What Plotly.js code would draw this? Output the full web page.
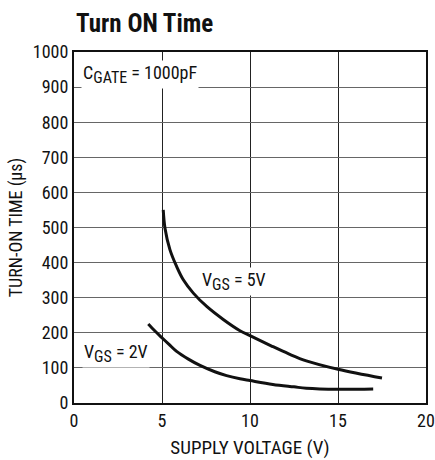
<!DOCTYPE html>
<html><head><meta charset="utf-8">
<script src="https://cdn.plot.ly/plotly-3.0.1.min.js"></script>
<style>body{margin:0;background:#fff}#c{width:435px;height:460px}</style>
</head><body><div id="c"></div>
<script>
const vgs5X = [5.07, 5.17, 5.45, 5.83, 6.21, 6.78, 7.54, 8.48, 9.43, 10.0, 11.2, 12.2, 13.2, 15.0, 17.5];
const vgs5Y = [550, 498, 437, 389, 351, 313, 275, 238, 206, 192, 163, 140, 120, 96, 71];
const vgs2X = [4.22, 4.6, 4.91, 5.4, 5.83, 6.5, 7.16, 8.0, 8.67, 9.43, 10.0, 11.3, 12.5, 13.2, 15.0, 17.0];
const vgs2Y = [225, 205, 190, 167, 147, 125, 107, 89, 78, 69, 64, 53, 46, 42, 39, 40];
const xTicks = [0, 5, 10, 15, 20];
const yTicks = [0, 100, 200, 300, 400, 500, 600, 700, 800, 900, 1000];

const F = "'Roboto Condensed', 'Roboto', 'Liberation Sans', sans-serif";
const lineStyle = {color: '#111', width: 3, shape: 'spline', smoothing: 1};
const data = [
  {x: vgs5X, y: vgs5Y, mode: 'lines', line: lineStyle, hoverinfo: 'skip'},
  {x: vgs2X, y: vgs2Y, mode: 'lines', line: lineStyle, hoverinfo: 'skip'}
];
const sub = s => "<sub><span style='font-size:16px'>" + s + "</span></sub>";
const layout = {
  width: 435, height: 460,
  margin: {l: 74, r: 9, t: 52, b: 57},
  showlegend: false,
  paper_bgcolor: '#fff', plot_bgcolor: '#fff',
  font: {family: F, size: 18, color: '#111'},
  title: {text: '<b>Turn ON Time</b>', x: 76/435, xanchor: 'left', y: 0.95, yanchor: 'middle',
          font: {family: F, size: 25, color: '#111'}},
  xaxis: {range: [0, 20], tickvals: xTicks, ticktext: xTicks.map(String), showgrid: true,
          gridcolor: '#222', gridwidth: 1, showline: true, linecolor: '#111', linewidth: 2, mirror: true,
          ticks: '', zeroline: false, fixedrange: true, tickfont: {size: 18},
          title: {text: 'SUPPLY VOLTAGE (V)', font: {size: 19}, standoff: 11}},
  yaxis: {range: [0, 1000], tickvals: yTicks, ticktext: yTicks.map(String), showgrid: true,
          gridcolor: '#666', gridwidth: 1, showline: true, linecolor: '#111', linewidth: 2, mirror: true,
          ticks: '', zeroline: false, fixedrange: true, tickfont: {size: 18},
          title: {text: 'TURN-ON TIME (µs)', font: {size: 18}, standoff: 6}},
  annotations: [
    {x: 0.4, y: 935, xref: 'x', yref: 'y', xanchor: 'left', yanchor: 'middle', showarrow: false,
     text: 'C' + sub('GATE') + ' = 1000pF', font: {size: 18}, bgcolor: '#fff'},
    {x: 9.1, y: 345, xref: 'x', yref: 'y', xanchor: 'center', yanchor: 'middle', showarrow: false,
     text: 'V' + sub('GS') + ' = 5V', font: {size: 18}, bgcolor: '#fff'},
    {x: 0.45, y: 140, xref: 'x', yref: 'y', xanchor: 'left', yanchor: 'middle', showarrow: false,
     text: 'V' + sub('GS') + ' = 2V', font: {size: 18}, bgcolor: '#fff'}
  ]
};
Plotly.newPlot('c', data, layout, {displayModeBar: false, staticPlot: true});
</script></body></html>
